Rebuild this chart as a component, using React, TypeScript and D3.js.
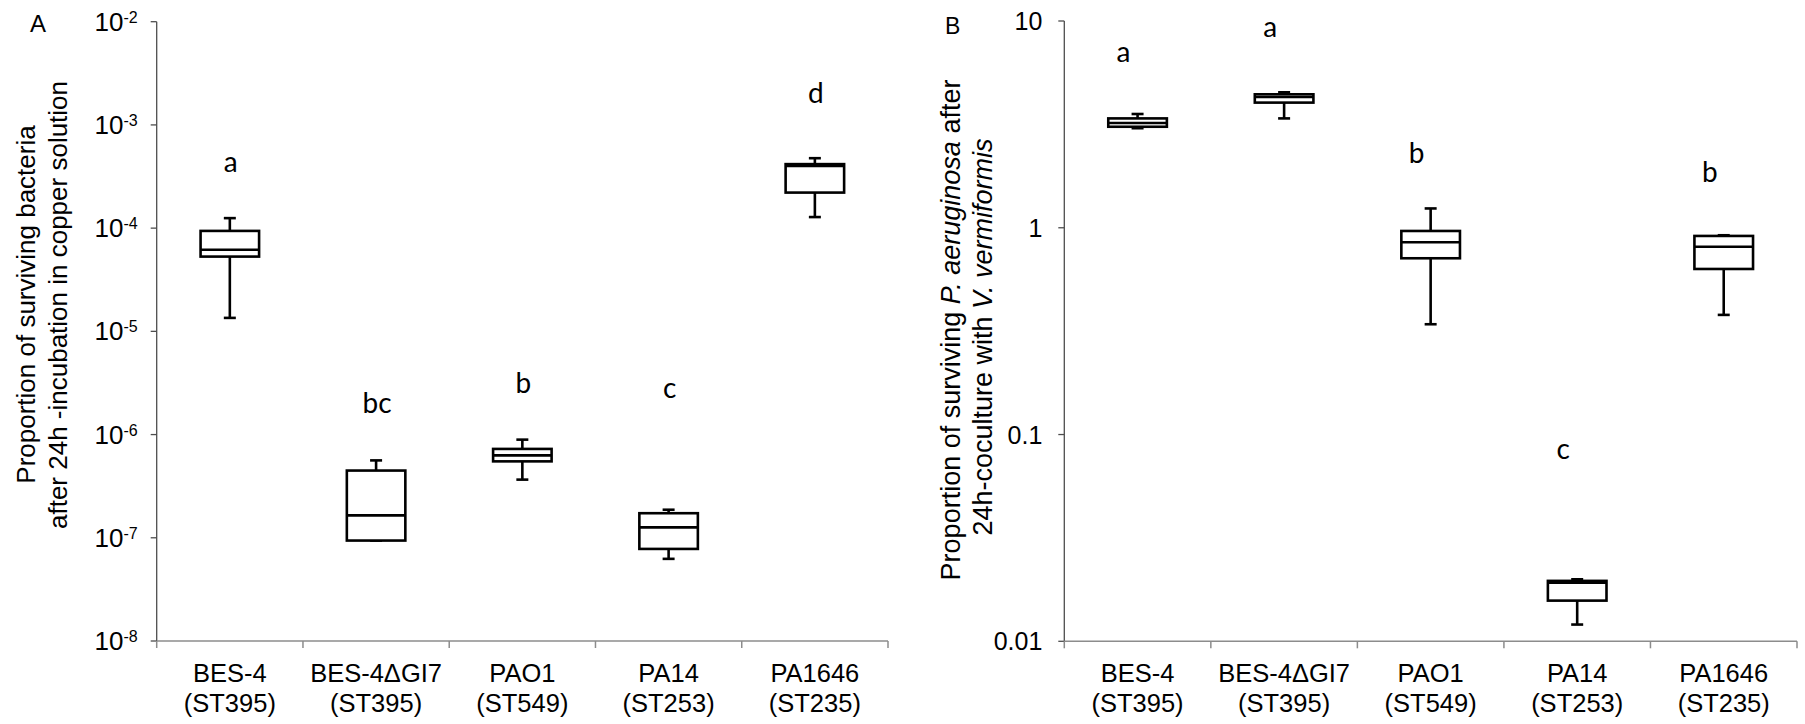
import React from "react";
import * as d3 from "d3";

const strains = ["BES-4", "BES-4\u0394GI7", "PAO1", "PA14", "PA1646"];
const seqTypes = ["(ST395)", "(ST395)", "(ST549)", "(ST253)", "(ST235)"];

// Panel A: survival after copper incubation
const copperMin = [1.35e-5, 9.4e-8, 3.66e-7, 6.25e-8, 1.28e-4];
const copperQ1 = [5.3e-5, 9.4e-8, 5.5e-7, 7.8e-8, 2.21e-4];
const copperMedian = [6.17e-5, 1.65e-7, 6.29e-7, 1.26e-7, 4.0e-4];
const copperQ3 = [9.4e-5, 4.48e-7, 7.26e-7, 1.73e-7, 4.17e-4];
const copperMax = [1.25e-4, 5.62e-7, 8.93e-7, 1.87e-7, 4.76e-4];
const copperLetters = ["a", "bc", "b", "c", "d"];
const copperLetterAt = [3.5e-4, 1.63e-6, 2.55e-6, 2.28e-6, 1.63e-3];
const copperTicks = [1e-8, 1e-7, 1e-6, 1e-5, 1e-4, 1e-3, 1e-2];

// Panel B: survival after coculture with V. vermiformis
const cocultureMin = [3.03, 3.38, 0.3415, 0.01205, 0.379];
const cocultureQ1 = [3.08, 4.03, 0.712, 0.01573, 0.632];
const cocultureMedian = [3.21, 4.29, 0.851, 0.0192, 0.81];
const cocultureQ3 = [3.38, 4.42, 0.965, 0.0196, 0.913];
const cocultureMax = [3.55, 4.52, 1.24, 0.01995, 0.92];
const cocultureLetters = ["a", "a", "b", "c", "b"];
const cocultureLetterAt = [6.36, 8.4, 2.06, 0.076, 1.67];
const cocultureTicks = [0.01, 0.1, 1, 10];
const cocultureTickLabels = ["0.01", "0.1", "1", "10"];

const SANS = "'Liberation Sans', Arial, sans-serif";
const LETTER_FONT = "Lato, 'Liberation Sans', sans-serif";

type PanelProps = {
  left: number;
  right: number;
  top: number;
  bottom: number;
  domain: [number, number];
  min: number[];
  q1: number[];
  median: number[];
  q3: number[];
  max: number[];
  letters: string[];
  letterAt: number[];
  letterDx: number;
  ticks: number[];
  tickLabel: (v: number, i: number, x: number, y: number) => React.ReactNode;
};

const BoxPanel = (p: PanelProps) => {
  const x = d3.scaleBand<string>().domain(strains).range([p.left, p.right]);
  const y = d3.scaleLog().domain(p.domain).range([p.bottom, p.top]);
  const bw = x.bandwidth() * 0.4;
  const cap = 12;
  const boundaries = strains.map((s) => x(s) as number).concat([p.right]);

  return (
    <g>
      {/* axes */}
      <line x1={p.left} x2={p.left} y1={y(p.domain[1])} y2={p.bottom} stroke="#4d4d4d" strokeWidth={1.3} />
      <line x1={p.left} x2={p.right} y1={p.bottom} y2={p.bottom} stroke="#8c8c8c" strokeWidth={1.5} />
      {p.ticks.map((t, i) => (
        <g key={"t" + i}>
          <line x1={p.left - 6} x2={p.left} y1={y(t)} y2={y(t)} stroke="#4d4d4d" strokeWidth={1.3} />
          {p.tickLabel(t, i, p.left, y(t))}
        </g>
      ))}
      {boundaries.map((bx, i) => (
        <line key={"b" + i} x1={bx} x2={bx} y1={p.bottom} y2={p.bottom + 7} stroke="#8c8c8c" strokeWidth={1.5} />
      ))}
      {strains.map((s, i) => {
        const cx = (x(s) as number) + x.bandwidth() / 2;
        return (
          <g key={s}>
            <text x={cx} y={p.bottom + 41} textAnchor="middle" fontFamily={SANS} fontSize={25.5} fill="#000">{s}</text>
            <text x={cx} y={p.bottom + 71} textAnchor="middle" fontFamily={SANS} fontSize={25.5} fill="#000">{seqTypes[i]}</text>
          </g>
        );
      })}
      {/* boxes */}
      {strains.map((s, i) => {
        const cx = (x(s) as number) + x.bandwidth() / 2;
        const yMin = y(p.min[i]);
        const yMax = y(p.max[i]);
        const yQ1 = y(p.q1[i]);
        const yQ3 = y(p.q3[i]);
        const yMed = y(p.median[i]);
        return (
          <g key={"box" + s} stroke="#000" strokeWidth={2.6} fill="none">
            <line x1={cx} x2={cx} y1={yQ3} y2={yMax} />
            <line x1={cx - cap / 2} x2={cx + cap / 2} y1={yMax} y2={yMax} />
            <line x1={cx} x2={cx} y1={yQ1} y2={yMin} />
            <line x1={cx - cap / 2} x2={cx + cap / 2} y1={yMin} y2={yMin} />
            <rect x={cx - bw / 2} y={yQ3} width={bw} height={yQ1 - yQ3} fill="#fff" />
            <line x1={cx - bw / 2} x2={cx + bw / 2} y1={yMed} y2={yMed} />
            <text
              x={cx + p.letterDx}
              y={y(p.letterAt[i])}
              textAnchor="middle"
              fontFamily={LETTER_FONT}
              fontSize={28}
              stroke="none"
              fill="#000"
            >
              {p.letters[i]}
            </text>
          </g>
        );
      })}
    </g>
  );
};

const copperTickLabel = (v: number, i: number, ax: number, ty: number) => {
  const exp = Math.round(Math.log10(v));
  return (
    <text x={ax - 19} y={ty + 9} textAnchor="end" fontFamily={SANS} fontSize={26} fill="#000">
      <tspan>10</tspan>
      <tspan dy={-8} fontSize={16}>{String(exp)}</tspan>
    </text>
  );
};

const cocultureTickLabel = (v: number, i: number, ax: number, ty: number) => (
  <text x={ax - 22} y={ty + 9} textAnchor="end" fontFamily={SANS} fontSize={25} fill="#000">
    {cocultureTickLabels[i]}
  </text>
);

export default function App() {
  return (
    <svg
      width={1805}
      height={724}
      style={{ position: "absolute", left: 0, top: 0, background: "#fff" }}
    >
      <rect width={1805} height={724} fill="#fff" />
      {/* Panel A */}
      <text x={30} y={32} fontFamily={SANS} fontSize={24} fill="#000">A</text>
      <text transform="translate(35,304.5) rotate(-90)" textAnchor="middle" fontFamily={SANS} fontSize={26} fill="#000">
        Proportion of surviving bacteria
      </text>
      <text transform="translate(66.5,305) rotate(-90)" textAnchor="middle" fontFamily={SANS} fontSize={26} fill="#000">
        after 24h -incubation in copper solution
      </text>
      <BoxPanel
        left={156.7}
        right={888}
        top={21.7}
        bottom={641}
        domain={[1e-8, 1e-2]}
        min={copperMin}
        q1={copperQ1}
        median={copperMedian}
        q3={copperQ3}
        max={copperMax}
        letters={copperLetters}
        letterAt={copperLetterAt}
        letterDx={1}
        ticks={copperTicks}
        tickLabel={copperTickLabel}
      />

      {/* Panel B */}
      <text x={945} y={34} fontFamily={SANS} fontSize={23} fill="#000">B</text>
      <text transform="translate(960,330) rotate(-90)" textAnchor="middle" fontFamily={SANS} fontSize={27} fill="#000">
        Proportion of surviving <tspan fontStyle="italic">P. aeruginosa</tspan> after
      </text>
      <text transform="translate(991.5,337) rotate(-90)" textAnchor="middle" fontFamily={SANS} fontSize={27} fill="#000">
        24h-coculture with <tspan fontStyle="italic">V. vermiformis</tspan>
      </text>
      <BoxPanel
        left={1064.3}
        right={1797}
        top={21}
        bottom={641.3}
        domain={[0.01, 10]}
        min={cocultureMin}
        q1={cocultureQ1}
        median={cocultureMedian}
        q3={cocultureQ3}
        max={cocultureMax}
        letters={cocultureLetters}
        letterAt={cocultureLetterAt}
        letterDx={-14}
        ticks={cocultureTicks}
        tickLabel={cocultureTickLabel}
      />
    </svg>
  );
}
